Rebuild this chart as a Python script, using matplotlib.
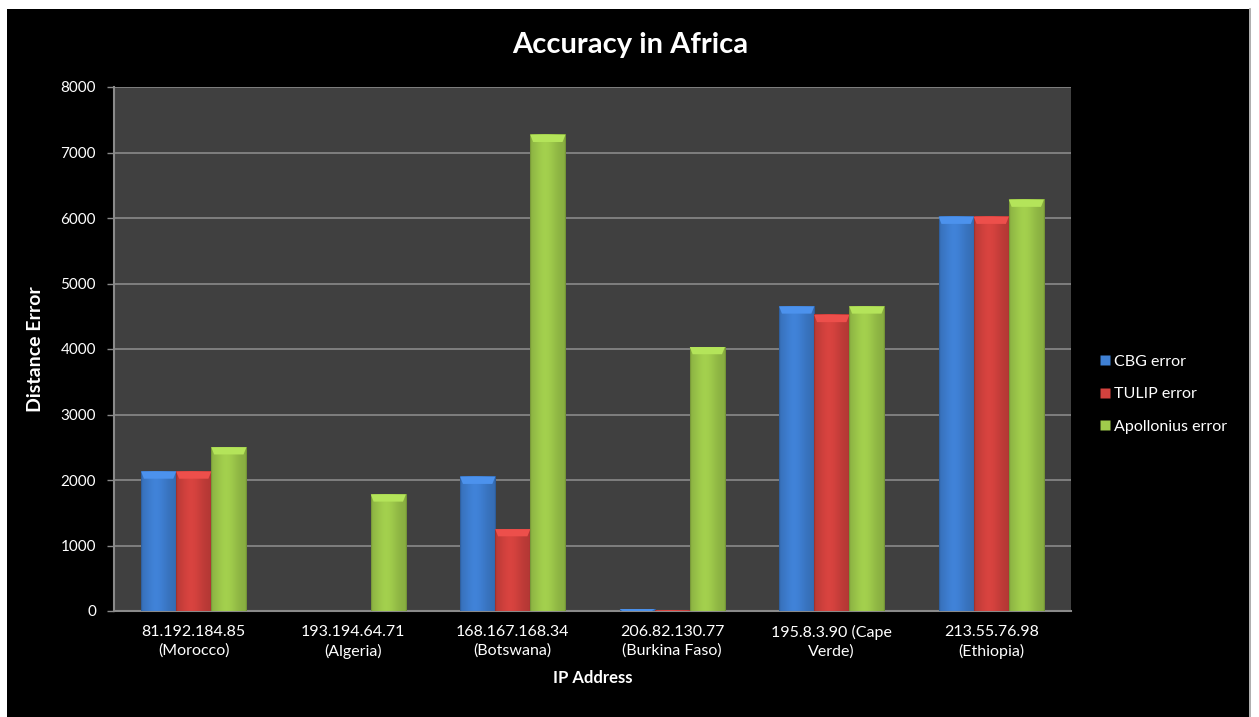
import numpy as np
import matplotlib.pyplot as plt
from matplotlib.patches import Rectangle, Polygon
from matplotlib.lines import Line2D
from matplotlib.colors import to_rgb

plt.rcParams['font.family'] = ['Lato', 'DejaVu Sans']

# Error per probe (km)
hosts = ['81.192.184.85\n(Morocco)', '193.194.64.71\n(Algeria)', '168.167.168.34\n(Botswana)',
         '206.82.130.77\n(Burkina Faso)', '195.8.3.90 (Cape\nVerde)', '213.55.76.98\n(Ethiopia)']
cbg_error = [2130, 0, 2050, 30, 4650, 6020]
tulip_error = [2130, 0, 1250, 5, 4520, 6020]
apollonius_error = [2500, 1780, 7270, 4030, 4650, 6280]

series = [('CBG error', cbg_error, '#3f80d4'),
          ('TULIP error', tulip_error, '#d4423e'),
          ('Apollonius error', apollonius_error, '#a0cc4c')]

fig = plt.figure(figsize=(12.59, 7.17), dpi=100, facecolor='white')
# black chart frame inside a thin white margin
fig.patches.append(Rectangle((7 / 1259, 0), 1242 / 1259, 708 / 717, transform=fig.transFigure,
                             facecolor='black', edgecolor='none', zorder=-5))
fig.lines.append(Line2D([1250 / 1259, 1250 / 1259], [0, 708 / 717], transform=fig.transFigure,
                        color='#a0a0a0', linewidth=1.2, zorder=-4))

ax = fig.add_axes([114 / 1259, 106 / 717, 957 / 1259, 524 / 717])
ax.set_facecolor('#404040')

x = np.arange(len(hosts))
width = 0.22


def shaded_bar(ax, xc, h, color):
    if h <= 0:
        return
    x0, x1 = xc - width / 2, xc + width / 2
    base = np.array(to_rgb(color))
    t = np.linspace(0, 1, 64)
    # cylinder-like shading: darker edges, slightly brighter left of centre
    shade = 0.84 + 0.18 * np.exp(-((t - 0.42) / 0.34) ** 2)
    shade[:2] *= 0.85
    shade[-2:] *= 0.85
    img = np.clip(base[None, :] * shade[:, None], 0, 1)[None, :, :]
    ax.imshow(img, extent=(x0, x1, 0, h), aspect='auto', zorder=3, interpolation='bilinear')
    # bevelled top edge
    dy = min(110, h)
    dx = 0.018
    top = np.clip(base * 1.08 + 0.03, 0, 1)
    ax.add_patch(Polygon([(x0, h), (x1, h), (x1 - dx, h - dy), (x0 + dx, h - dy)],
                         closed=True, facecolor=top, edgecolor='none', zorder=4))


for i, (name, vals, color) in enumerate(series):
    for xi, v in zip(x, vals):
        shaded_bar(ax, xi + (i - 1) * width, v, color)

ax.set_xlim(-0.5, len(hosts) - 0.5)
ax.set_ylim(0, 8000)
ax.set_yticks(np.arange(0, 8001, 1000))
ax.yaxis.grid(True, color='#8a8a8a', linewidth=1.2, zorder=1)
ax.set_axisbelow(True)
ax.set_xticks(x)
ax.set_xticklabels(hosts, color='white', fontsize=11.5, linespacing=1.4)
ax.tick_params(axis='y', colors='white', labelsize=11, length=5, width=1, color='#8a8a8a', pad=8)
ax.tick_params(axis='x', length=0, pad=10)
for s in ['top', 'right']:
    ax.spines[s].set_visible(False)
for s in ['left', 'bottom']:
    ax.spines[s].set_color('#8a8a8a')
    ax.spines[s].set_linewidth(1.5)

ax.set_ylabel('Distance Error', color='white', fontsize=14, fontweight='bold', labelpad=12)
ax.set_xlabel('IP Address', color='white', fontsize=12, fontweight='bold', labelpad=8)
fig.text(630 / 1259, 1 - 45 / 717, 'Accuracy in Africa', color='white', fontsize=21,
         fontweight='bold', ha='center', va='center')

handles = [Line2D([], [], marker='s', linestyle='none', markersize=7, markerfacecolor=c,
                  markeredgecolor='none') for _, _, c in series]
leg = fig.legend(handles, [s[0] for s in series], loc='center left',
                 bbox_to_anchor=(1083 / 1259, 1 - 394 / 717), frameon=False,
                 labelcolor='white', fontsize=11.5, labelspacing=1.15, handletextpad=0.05,
                 handlelength=1.0)

fig.savefig('out.png', dpi=100, facecolor='white')
